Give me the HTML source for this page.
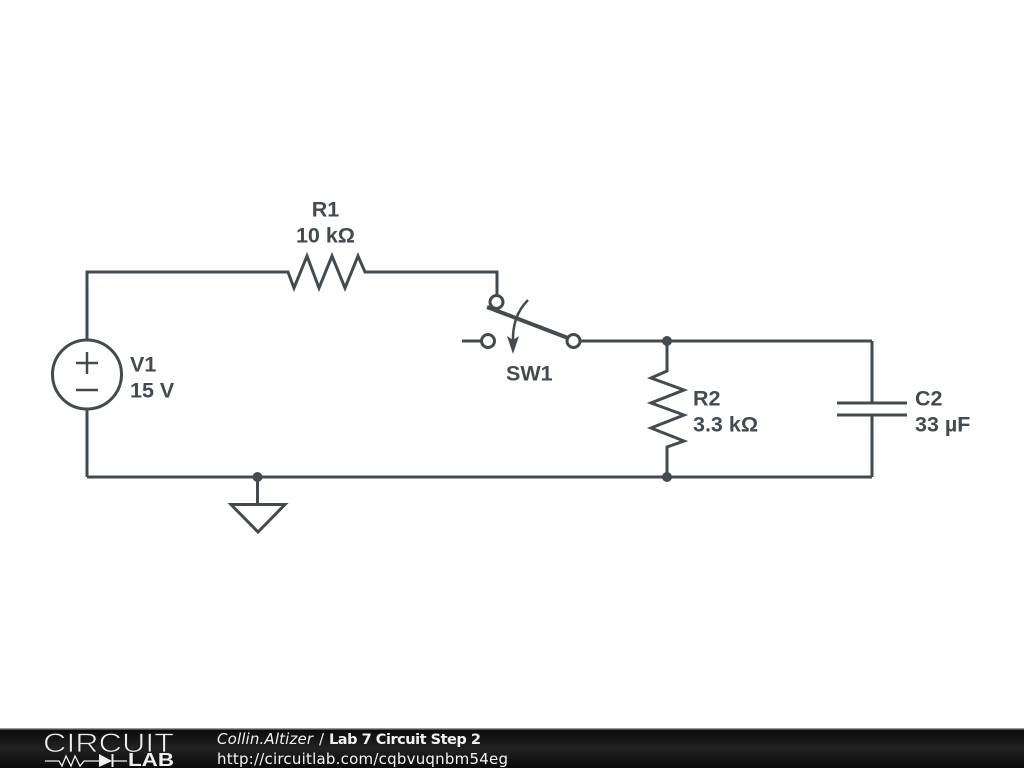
<!DOCTYPE html>
<html>
<head>
<meta charset="utf-8">
<style>
html,body{margin:0;padding:0;background:#fff;width:1024px;height:768px;overflow:hidden}
svg{display:block;position:absolute;left:0;top:0}
</style>
</head>
<body>
<svg width="1024" height="768" viewBox="0 0 1024 768" xmlns="http://www.w3.org/2000/svg">
<defs>
<linearGradient id="bar" x1="0" y1="0" x2="0" y2="1">
<stop offset="0" stop-color="#0a0a0a"/>
<stop offset="0.5" stop-color="#222222"/>
<stop offset="1" stop-color="#0a0a0a"/>
</linearGradient>
</defs>
<rect width="1024" height="768" fill="#fff"/>
<g fill="none" stroke="#434b50" stroke-width="3" stroke-linejoin="miter" stroke-linecap="butt">
<polyline points="87,340 87,272 288,272 294,288 307,256 319,288 332,256 345,288 358,256 365,272 497,272 497,295"/>
<line x1="87" y1="409" x2="87" y2="477"/>
<line x1="87" y1="477" x2="872" y2="477"/>
<circle cx="87" cy="374.500" r="34.500"/>
<line x1="76" y1="363" x2="98" y2="363" stroke-width="2.500"/>
<line x1="87" y1="352" x2="87" y2="374" stroke-width="2.500"/>
<line x1="76" y1="390" x2="98" y2="390" stroke-width="2.500"/>
<circle cx="496.500" cy="302" r="6.500"/>
<circle cx="488" cy="341" r="6.500"/>
<circle cx="573.500" cy="341" r="6.500"/>
<line x1="462" y1="341" x2="481" y2="341"/>
<line x1="580" y1="341" x2="872" y2="341"/>
<line x1="487" y1="307" x2="568" y2="338" stroke-width="4"/>
<path d="M528,300 Q512,316 513,342" stroke-width="2.500"/>
<polyline points="667,341 667,371 651,378 684,390 651,403 684,415 651,428 684,441 667,447 667,477"/>
<line x1="872" y1="341" x2="872" y2="403"/>
<line x1="872" y1="415" x2="872" y2="477"/>
<line x1="837" y1="403" x2="907" y2="403"/>
<line x1="837" y1="415" x2="907" y2="415"/>
<line x1="257.500" y1="477" x2="257.500" y2="504"/>
<polygon points="231,504.500 285,504.500 258,532"/>
</g>
<polygon points="507,336 513,340 519,336 513,354" fill="#434b50"/>
<g fill="#434b50">
<circle cx="667" cy="341" r="5"/>
<circle cx="667" cy="477" r="5"/>
<circle cx="257.500" cy="477" r="5"/>
</g>
<g font-family="'Liberation Sans',sans-serif" font-weight="700" font-size="21.500" fill="#434b50">
<text x="325.500" y="216.500" text-anchor="middle">R1</text>
<text x="325.500" y="242.500" text-anchor="middle">10 kΩ</text>
<text x="130" y="371.500">V1</text>
<text x="130" y="397.500">15 V</text>
<text x="506" y="380.500">SW1</text>
<text x="693" y="405.500">R2</text>
<text x="693" y="431.500">3.3 kΩ</text>
<text x="915" y="405.500">C2</text>
<text x="915" y="431.500">33 µF</text>
</g>
<rect x="0" y="729" width="1024" height="39" fill="url(#bar)"/>
<rect x="0" y="728" width="1024" height="1.500" fill="#9a9a9a"/>
<text x="43" y="752" font-family="'Liberation Sans',sans-serif" font-size="27" fill="#eeeeee" textLength="131" lengthAdjust="spacingAndGlyphs" stroke="#1a1a1a" stroke-width="0.800">CIRCUIT</text>
<g fill="none" stroke="#eeeeee" stroke-width="1.300">
<polyline points="45,761 59,761 62,766 66,756 71,766 75,756 80,766 84,761 100,761"/>
<line x1="113" y1="761" x2="127" y2="761"/>
<line x1="112.500" y1="754" x2="112.500" y2="767" stroke-width="2"/>
</g>
<polygon points="99,754 112,761 99,767" fill="#eeeeee"/>
<text x="128" y="766" font-family="'Liberation Sans',sans-serif" font-weight="700" font-size="18" fill="#eeeeee" textLength="46" lengthAdjust="spacingAndGlyphs">LAB</text>
<g font-family="'DejaVu Sans',sans-serif" fill="#f2f2f2">
<text x="217" y="744" font-size="15" font-style="italic" textLength="96">Collin.Altizer</text>
<text x="319" y="744" font-size="15">/</text>
<text x="329" y="744" font-size="14.500" font-weight="700" textLength="152">Lab 7 Circuit Step 2</text>
<text x="217" y="764" font-size="15" textLength="291">http://circuitlab.com/cqbvuqnbm54eg</text>
</g>
</svg>
</body>
</html>
